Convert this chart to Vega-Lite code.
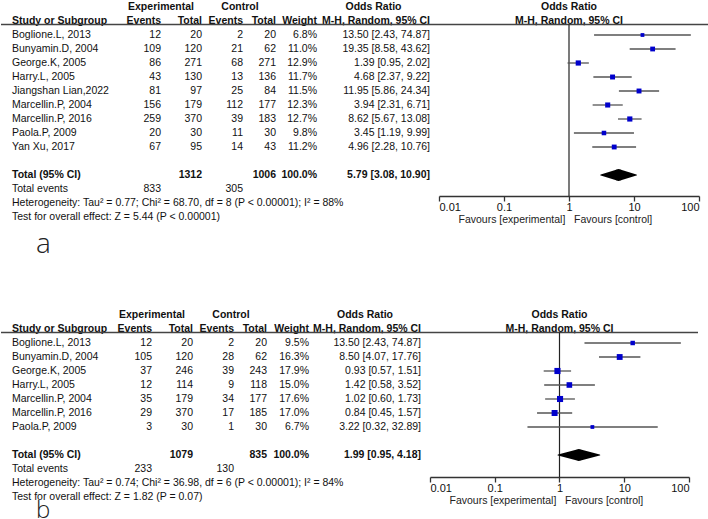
{
"$schema":"https://vega.github.io/schema/vega-lite/v6.json",
"padding":0,
"background":"white",
"spacing":49,
"datasets":{
"A":[
{"kind":"study","row":"Boglione.L, 2013","eE":12,"eT":20,"cE":2,"cT":20,"w":0.068,"orCI":"13.50 [2.43, 74.87]","or":13.50,"lo":2.43,"hi":74.87},
{"kind":"study","row":"Bunyamin.D, 2004","eE":109,"eT":120,"cE":21,"cT":62,"w":0.110,"orCI":"19.35 [8.58, 43.62]","or":19.35,"lo":8.58,"hi":43.62},
{"kind":"study","row":"George.K, 2005","eE":86,"eT":271,"cE":68,"cT":271,"w":0.129,"orCI":"1.39 [0.95, 2.02]","or":1.39,"lo":0.95,"hi":2.02},
{"kind":"study","row":"Harry.L, 2005","eE":43,"eT":130,"cE":13,"cT":136,"w":0.117,"orCI":"4.68 [2.37, 9.22]","or":4.68,"lo":2.37,"hi":9.22},
{"kind":"study","row":"Jiangshan Lian,2022","eE":81,"eT":97,"cE":25,"cT":84,"w":0.115,"orCI":"11.95 [5.86, 24.34]","or":11.95,"lo":5.86,"hi":24.34},
{"kind":"study","row":"Marcellin.P, 2004","eE":156,"eT":179,"cE":112,"cT":177,"w":0.123,"orCI":"3.94 [2.31, 6.71]","or":3.94,"lo":2.31,"hi":6.71},
{"kind":"study","row":"Marcellin.P, 2016","eE":259,"eT":370,"cE":39,"cT":183,"w":0.127,"orCI":"8.62 [5.67, 13.08]","or":8.62,"lo":5.67,"hi":13.08},
{"kind":"study","row":"Paola.P, 2009","eE":20,"eT":30,"cE":11,"cT":30,"w":0.098,"orCI":"3.45 [1.19, 9.99]","or":3.45,"lo":1.19,"hi":9.99},
{"kind":"study","row":"Yan Xu, 2017","eE":67,"eT":95,"cE":14,"cT":43,"w":0.112,"orCI":"4.96 [2.28, 10.76]","or":4.96,"lo":2.28,"hi":10.76},
{"kind":"total","row":"Total (95% CI)","eT":1312,"cT":1006,"w":1.0,"orCI":"5.79 [3.08, 10.90]","or":5.79,"lo":3.08,"hi":10.90},
{"kind":"events","row":"Total events","eE":833,"cE":305},
{"kind":"note","row":"het","text":"Heterogeneity: Tau² = 0.77; Chi² = 68.70, df = 8 (P < 0.00001); I² = 88%"},
{"kind":"note","row":"test","text":"Test for overall effect: Z = 5.44 (P < 0.00001)"},
{"kind":"label","row":"lbl","text":"a"}
],
"B":[
{"kind":"study","row":"Boglione.L, 2013","eE":12,"eT":20,"cE":2,"cT":20,"w":0.095,"orCI":"13.50 [2.43, 74.87]","or":13.50,"lo":2.43,"hi":74.87},
{"kind":"study","row":"Bunyamin.D, 2004","eE":105,"eT":120,"cE":28,"cT":62,"w":0.163,"orCI":"8.50 [4.07, 17.76]","or":8.50,"lo":4.07,"hi":17.76},
{"kind":"study","row":"George.K, 2005","eE":37,"eT":246,"cE":39,"cT":243,"w":0.179,"orCI":"0.93 [0.57, 1.51]","or":0.93,"lo":0.57,"hi":1.51},
{"kind":"study","row":"Harry.L, 2005","eE":12,"eT":114,"cE":9,"cT":118,"w":0.150,"orCI":"1.42 [0.58, 3.52]","or":1.42,"lo":0.58,"hi":3.52},
{"kind":"study","row":"Marcellin.P, 2004","eE":35,"eT":179,"cE":34,"cT":177,"w":0.176,"orCI":"1.02 [0.60, 1.73]","or":1.02,"lo":0.60,"hi":1.73},
{"kind":"study","row":"Marcellin.P, 2016","eE":29,"eT":370,"cE":17,"cT":185,"w":0.170,"orCI":"0.84 [0.45, 1.57]","or":0.84,"lo":0.45,"hi":1.57},
{"kind":"study","row":"Paola.P, 2009","eE":3,"eT":30,"cE":1,"cT":30,"w":0.067,"orCI":"3.22 [0.32, 32.89]","or":3.22,"lo":0.32,"hi":32.89},
{"kind":"total","row":"Total (95% CI)","eT":1079,"cT":835,"w":1.0,"orCI":"1.99 [0.95, 4.18]","or":1.99,"lo":0.95,"hi":4.18},
{"kind":"events","row":"Total events","eE":233,"cE":130},
{"kind":"note","row":"het","text":"Heterogeneity: Tau² = 0.74; Chi² = 36.98, df = 6 (P < 0.00001); I² = 84%"},
{"kind":"note","row":"test","text":"Test for overall effect: Z = 1.82 (P = 0.07)"},
{"kind":"label","row":"lbl","text":"b"}
]
},
"vconcat":[
{"bounds":"flush","spacing":0,"hconcat":[
{"width":11,"height":252,"data":{"name":"A"},
"encoding":{"y":{"field":"row","type":"nominal","axis":null,"scale":{"type":"band","paddingInner":0,"paddingOuter":0,"domain":["h1","h2","Boglione.L, 2013","Bunyamin.D, 2004","George.K, 2005","Harry.L, 2005","Jiangshan Lian,2022","Marcellin.P, 2004","Marcellin.P, 2016","Paola.P, 2009","Yan Xu, 2017","gap","Total (95% CI)","Total events","het","test","sp","lbl"]}}},
"layer":[
{"data":{"values":[{"row":"h2","t":"Study or Subgroup"}]},"mark":{"type":"text","align":"left","fontWeight":"bold"},"encoding":{"x":{"value":"width"},"text":{"field":"t","type":"nominal"}}},
{"data":{"values":[{"row":"h2"}]},"mark":{"type":"rule","color":"#444","strokeWidth":1.5},"encoding":{"y":{"field":"row","type":"nominal","bandPosition":0.75,"axis":null}}},
{"transform":[{"filter":"datum.kind==='study' || datum.kind==='events'"}],"mark":{"type":"text","align":"left"},"encoding":{"x":{"value":"width"},"text":{"field":"row","type":"nominal"}}},
{"transform":[{"filter":"datum.kind==='total'"}],"mark":{"type":"text","align":"left","fontWeight":"bold"},"encoding":{"x":{"value":"width"},"text":{"field":"row","type":"nominal"}}},
{"transform":[{"filter":"datum.kind==='note'"}],"mark":{"type":"text","align":"left"},"encoding":{"x":{"value":"width"},"text":{"field":"text","type":"nominal"}}},
{"transform":[{"filter":"datum.kind==='label'"}],"mark":{"type":"text","align":"left","dx":24,"fontSize":28,"font":"Open Sans","fontWeight":300,"color":"#222"},"encoding":{"x":{"value":"width"},"text":{"field":"text","type":"nominal"}}}
]},
{"width":149,"height":196,"data":{"name":"A"},
"encoding":{"y":{"field":"row","type":"nominal","axis":null,"scale":{"type":"band","paddingInner":0,"paddingOuter":0,"domain":["h1","h2","Boglione.L, 2013","Bunyamin.D, 2004","George.K, 2005","Harry.L, 2005","Jiangshan Lian,2022","Marcellin.P, 2004","Marcellin.P, 2016","Paola.P, 2009","Yan Xu, 2017","gap","Total (95% CI)","Total events"]}}},
"layer":[
{"data":{"values":[{"row":"h1","t":"Experimental"}]},"mark":{"type":"text","align":"center","fontWeight":"bold"},"encoding":{"x":{"value":"width"},"text":{"field":"t","type":"nominal"}}},
{"data":{"values":[{"row":"h2","t":"Events"}]},"mark":{"type":"text","align":"right","fontWeight":"bold"},"encoding":{"x":{"value":"width"},"text":{"field":"t","type":"nominal"}}},
{"data":{"values":[{"row":"h2"}]},"mark":{"type":"rule","color":"#444","strokeWidth":1.5},"encoding":{"y":{"field":"row","type":"nominal","bandPosition":0.75,"axis":null}}},
{"transform":[{"filter":"datum.kind==='study' || datum.kind==='events'"}],"mark":{"type":"text","align":"right"},"encoding":{"x":{"value":"width"},"text":{"field":"eE","type":"nominal"}}}
]},
{"width":41,"height":196,"data":{"name":"A"},
"encoding":{"y":{"field":"row","type":"nominal","axis":null,"scale":{"type":"band","paddingInner":0,"paddingOuter":0,"domain":["h1","h2","Boglione.L, 2013","Bunyamin.D, 2004","George.K, 2005","Harry.L, 2005","Jiangshan Lian,2022","Marcellin.P, 2004","Marcellin.P, 2016","Paola.P, 2009","Yan Xu, 2017","gap","Total (95% CI)","Total events"]}}},
"layer":[
{"data":{"values":[{"row":"h2","t":"Total"}]},"mark":{"type":"text","align":"right","fontWeight":"bold"},"encoding":{"x":{"value":"width"},"text":{"field":"t","type":"nominal"}}},
{"data":{"values":[{"row":"h2"}]},"mark":{"type":"rule","color":"#444","strokeWidth":1.5},"encoding":{"y":{"field":"row","type":"nominal","bandPosition":0.75,"axis":null}}},
{"transform":[{"filter":"datum.kind==='study'"}],"mark":{"type":"text","align":"right"},"encoding":{"x":{"value":"width"},"text":{"field":"eT","type":"nominal"}}},
{"transform":[{"filter":"datum.kind==='total'"}],"mark":{"type":"text","align":"right","fontWeight":"bold"},"encoding":{"x":{"value":"width"},"text":{"field":"eT","type":"nominal"}}}
]},
{"width":41,"height":196,"data":{"name":"A"},
"encoding":{"y":{"field":"row","type":"nominal","axis":null,"scale":{"type":"band","paddingInner":0,"paddingOuter":0,"domain":["h1","h2","Boglione.L, 2013","Bunyamin.D, 2004","George.K, 2005","Harry.L, 2005","Jiangshan Lian,2022","Marcellin.P, 2004","Marcellin.P, 2016","Paola.P, 2009","Yan Xu, 2017","gap","Total (95% CI)","Total events"]}}},
"layer":[
{"data":{"values":[{"row":"h1","t":"Control"}]},"mark":{"type":"text","align":"center","fontWeight":"bold","dx":-3},"encoding":{"x":{"value":"width"},"text":{"field":"t","type":"nominal"}}},
{"data":{"values":[{"row":"h2","t":"Events"}]},"mark":{"type":"text","align":"right","fontWeight":"bold"},"encoding":{"x":{"value":"width"},"text":{"field":"t","type":"nominal"}}},
{"data":{"values":[{"row":"h2"}]},"mark":{"type":"rule","color":"#444","strokeWidth":1.5},"encoding":{"y":{"field":"row","type":"nominal","bandPosition":0.75,"axis":null}}},
{"transform":[{"filter":"datum.kind==='study' || datum.kind==='events'"}],"mark":{"type":"text","align":"right"},"encoding":{"x":{"value":"width"},"text":{"field":"cE","type":"nominal"}}}
]},
{"width":33,"height":196,"data":{"name":"A"},
"encoding":{"y":{"field":"row","type":"nominal","axis":null,"scale":{"type":"band","paddingInner":0,"paddingOuter":0,"domain":["h1","h2","Boglione.L, 2013","Bunyamin.D, 2004","George.K, 2005","Harry.L, 2005","Jiangshan Lian,2022","Marcellin.P, 2004","Marcellin.P, 2016","Paola.P, 2009","Yan Xu, 2017","gap","Total (95% CI)","Total events"]}}},
"layer":[
{"data":{"values":[{"row":"h2","t":"Total"}]},"mark":{"type":"text","align":"right","fontWeight":"bold"},"encoding":{"x":{"value":"width"},"text":{"field":"t","type":"nominal"}}},
{"data":{"values":[{"row":"h2"}]},"mark":{"type":"rule","color":"#444","strokeWidth":1.5},"encoding":{"y":{"field":"row","type":"nominal","bandPosition":0.75,"axis":null}}},
{"transform":[{"filter":"datum.kind==='study'"}],"mark":{"type":"text","align":"right"},"encoding":{"x":{"value":"width"},"text":{"field":"cT","type":"nominal"}}},
{"transform":[{"filter":"datum.kind==='total'"}],"mark":{"type":"text","align":"right","fontWeight":"bold"},"encoding":{"x":{"value":"width"},"text":{"field":"cT","type":"nominal"}}}
]},
{"width":41,"height":196,"data":{"name":"A"},
"encoding":{"y":{"field":"row","type":"nominal","axis":null,"scale":{"type":"band","paddingInner":0,"paddingOuter":0,"domain":["h1","h2","Boglione.L, 2013","Bunyamin.D, 2004","George.K, 2005","Harry.L, 2005","Jiangshan Lian,2022","Marcellin.P, 2004","Marcellin.P, 2016","Paola.P, 2009","Yan Xu, 2017","gap","Total (95% CI)","Total events"]}}},
"layer":[
{"data":{"values":[{"row":"h2","t":"Weight"}]},"mark":{"type":"text","align":"right","fontWeight":"bold"},"encoding":{"x":{"value":"width"},"text":{"field":"t","type":"nominal"}}},
{"data":{"values":[{"row":"h2"}]},"mark":{"type":"rule","color":"#444","strokeWidth":1.5},"encoding":{"y":{"field":"row","type":"nominal","bandPosition":0.75,"axis":null}}},
{"transform":[{"filter":"datum.kind==='study'"}],"mark":{"type":"text","align":"right"},"encoding":{"x":{"value":"width"},"text":{"field":"w","type":"quantitative","format":".1%"}}},
{"transform":[{"filter":"datum.kind==='total'"}],"mark":{"type":"text","align":"right","fontWeight":"bold"},"encoding":{"x":{"value":"width"},"text":{"field":"w","type":"quantitative","format":".1%"}}}
]},
{"width":113,"height":196,"data":{"name":"A"},
"encoding":{"y":{"field":"row","type":"nominal","axis":null,"scale":{"type":"band","paddingInner":0,"paddingOuter":0,"domain":["h1","h2","Boglione.L, 2013","Bunyamin.D, 2004","George.K, 2005","Harry.L, 2005","Jiangshan Lian,2022","Marcellin.P, 2004","Marcellin.P, 2016","Paola.P, 2009","Yan Xu, 2017","gap","Total (95% CI)","Total events"]}}},
"layer":[
{"data":{"values":[{"row":"h1","t":"Odds Ratio"}]},"mark":{"type":"text","align":"center","fontWeight":"bold"},"encoding":{"text":{"field":"t","type":"nominal"}}},
{"data":{"values":[{"row":"h2","t":"M-H, Random, 95% CI"}]},"mark":{"type":"text","align":"right","fontWeight":"bold"},"encoding":{"x":{"value":"width"},"text":{"field":"t","type":"nominal"}}},
{"data":{"values":[{"row":"h2"}]},"mark":{"type":"rule","color":"#444","strokeWidth":1.5},"encoding":{"y":{"field":"row","type":"nominal","bandPosition":0.75,"axis":null}}},
{"transform":[{"filter":"datum.kind==='study'"}],"mark":{"type":"text","align":"right"},"encoding":{"x":{"value":"width"},"text":{"field":"orCI","type":"nominal"}}},
{"transform":[{"filter":"datum.kind==='total'"}],"mark":{"type":"text","align":"right","fontWeight":"bold"},"encoding":{"x":{"value":"width"},"text":{"field":"orCI","type":"nominal"}}}
]},
{"width":9,"height":28,"data":{"values":[{"row":"h2"}]},"mark":{"type":"rule","color":"#444","strokeWidth":1.5},
"encoding":{"y":{"field":"row","type":"nominal","bandPosition":0.75,"axis":null,"scale":{"type":"band","paddingInner":0,"paddingOuter":0,"domain":["h1","h2"]}}}},
{"width":260,"height":196,"data":{"name":"A"},
"encoding":{"y":{"field":"row","type":"nominal","axis":null,"scale":{"type":"band","paddingInner":0,"paddingOuter":0,"domain":["h1","h2","Boglione.L, 2013","Bunyamin.D, 2004","George.K, 2005","Harry.L, 2005","Jiangshan Lian,2022","Marcellin.P, 2004","Marcellin.P, 2016","Paola.P, 2009","Yan Xu, 2017","gap","Total (95% CI)","Total events"]}}},
"layer":[
{"data":{"values":[{"row":"h1","t":"Odds Ratio"},{"row":"h2","t":"M-H, Random, 95% CI"}]},"mark":{"type":"text","align":"center","fontWeight":"bold"},"encoding":{"x":{"datum":1,"type":"quantitative"},"text":{"field":"t","type":"nominal"}}},
{"data":{"values":[{"row":"h2"}]},"mark":{"type":"rule","color":"#444","strokeWidth":1.5},"encoding":{"y":{"field":"row","type":"nominal","bandPosition":0.75,"axis":null}}},
{"data":{"values":[{"row":"h2","ref":1}]},"mark":{"type":"rule","color":"#222","strokeWidth":1.2},"encoding":{"x":{"field":"ref","type":"quantitative"},"y":{"field":"row","type":"nominal","bandPosition":0.75,"axis":null},"y2":{"value":"height"}}},
{"transform":[{"filter":"datum.kind==='study'"}],"mark":{"type":"rule","color":"#555","strokeWidth":1.3},
"encoding":{"x":{"field":"lo","type":"quantitative","scale":{"type":"log","domain":[0.01,100]},
"axis":{"values":[0.01,0.1,1,10,100],"format":"~g","grid":false,"domainColor":"#333","domainWidth":1.3,"tickColor":"#333","tickWidth":1.3,"tickSize":5,"labelFontSize":11,"labelColor":"#111","labelPadding":0,"labelFlush":true,"title":"Favours [experimental]\u00a0\u00a0\u00a0Favours [control]","titleFontWeight":"normal","titleFontSize":10.5,"titleColor":"#222","titleAlign":"left","titleAnchor":"start","titleX":19,"titlePadding":2}},
"x2":{"field":"hi"}}},
{"transform":[{"filter":"datum.kind==='study'"}],"mark":{"type":"square","color":"#0000cc","opacity":1},"encoding":{"x":{"field":"or","type":"quantitative"},"size":{"field":"w","type":"quantitative","scale":{"domain":[0,0.2],"range":[0,42]},"legend":null}}},
{"transform":[{"filter":"datum.kind==='total'"},{"fold":["lo","or","hi"],"as":["key","val"]}],"mark":{"type":"trail","color":"#000"},"encoding":{"x":{"field":"val","type":"quantitative"},"size":{"condition":{"test":"datum.key==='or'","value":12},"value":0}}}
]},
{"width":10,"height":28,"data":{"values":[{"row":"h2"}]},"mark":{"type":"rule","color":"#444","strokeWidth":1.5},
"encoding":{"y":{"field":"row","type":"nominal","bandPosition":0.75,"axis":null,"scale":{"type":"band","paddingInner":0,"paddingOuter":0,"domain":["h1","h2"]}}}}
]},
{"bounds":"flush","spacing":0,"hconcat":[
{"width":11,"height":210,"data":{"name":"B"},
"encoding":{"y":{"field":"row","type":"nominal","axis":null,"scale":{"type":"band","paddingInner":0,"paddingOuter":0,"domain":["h1","h2","Boglione.L, 2013","Bunyamin.D, 2004","George.K, 2005","Harry.L, 2005","Marcellin.P, 2004","Marcellin.P, 2016","Paola.P, 2009","gap","Total (95% CI)","Total events","het","test","lbl"]}}},
"layer":[
{"data":{"values":[{"row":"h2","t":"Study or Subgroup"}]},"mark":{"type":"text","align":"left","fontWeight":"bold"},"encoding":{"x":{"value":"width"},"text":{"field":"t","type":"nominal"}}},
{"data":{"values":[{"row":"h2"}]},"mark":{"type":"rule","color":"#444","strokeWidth":1.5},"encoding":{"y":{"field":"row","type":"nominal","bandPosition":0.75,"axis":null}}},
{"transform":[{"filter":"datum.kind==='study' || datum.kind==='events'"}],"mark":{"type":"text","align":"left"},"encoding":{"x":{"value":"width"},"text":{"field":"row","type":"nominal"}}},
{"transform":[{"filter":"datum.kind==='total'"}],"mark":{"type":"text","align":"left","fontWeight":"bold"},"encoding":{"x":{"value":"width"},"text":{"field":"row","type":"nominal"}}},
{"transform":[{"filter":"datum.kind==='note'"}],"mark":{"type":"text","align":"left"},"encoding":{"x":{"value":"width"},"text":{"field":"text","type":"nominal"}}},
{"transform":[{"filter":"datum.kind==='label'"}],"mark":{"type":"text","align":"left","dx":24,"fontSize":24,"font":"Open Sans","fontWeight":300,"color":"#222"},"encoding":{"x":{"value":"width"},"text":{"field":"text","type":"nominal"}}}
]},
{"width":140,"height":168,"data":{"name":"B"},
"encoding":{"y":{"field":"row","type":"nominal","axis":null,"scale":{"type":"band","paddingInner":0,"paddingOuter":0,"domain":["h1","h2","Boglione.L, 2013","Bunyamin.D, 2004","George.K, 2005","Harry.L, 2005","Marcellin.P, 2004","Marcellin.P, 2016","Paola.P, 2009","gap","Total (95% CI)","Total events"]}}},
"layer":[
{"data":{"values":[{"row":"h1","t":"Experimental"}]},"mark":{"type":"text","align":"center","fontWeight":"bold"},"encoding":{"x":{"value":"width"},"text":{"field":"t","type":"nominal"}}},
{"data":{"values":[{"row":"h2","t":"Events"}]},"mark":{"type":"text","align":"right","fontWeight":"bold"},"encoding":{"x":{"value":"width"},"text":{"field":"t","type":"nominal"}}},
{"data":{"values":[{"row":"h2"}]},"mark":{"type":"rule","color":"#444","strokeWidth":1.5},"encoding":{"y":{"field":"row","type":"nominal","bandPosition":0.75,"axis":null}}},
{"transform":[{"filter":"datum.kind==='study' || datum.kind==='events'"}],"mark":{"type":"text","align":"right"},"encoding":{"x":{"value":"width"},"text":{"field":"eE","type":"nominal"}}}
]},
{"width":41,"height":168,"data":{"name":"B"},
"encoding":{"y":{"field":"row","type":"nominal","axis":null,"scale":{"type":"band","paddingInner":0,"paddingOuter":0,"domain":["h1","h2","Boglione.L, 2013","Bunyamin.D, 2004","George.K, 2005","Harry.L, 2005","Marcellin.P, 2004","Marcellin.P, 2016","Paola.P, 2009","gap","Total (95% CI)","Total events"]}}},
"layer":[
{"data":{"values":[{"row":"h2","t":"Total"}]},"mark":{"type":"text","align":"right","fontWeight":"bold"},"encoding":{"x":{"value":"width"},"text":{"field":"t","type":"nominal"}}},
{"data":{"values":[{"row":"h2"}]},"mark":{"type":"rule","color":"#444","strokeWidth":1.5},"encoding":{"y":{"field":"row","type":"nominal","bandPosition":0.75,"axis":null}}},
{"transform":[{"filter":"datum.kind==='study'"}],"mark":{"type":"text","align":"right"},"encoding":{"x":{"value":"width"},"text":{"field":"eT","type":"nominal"}}},
{"transform":[{"filter":"datum.kind==='total'"}],"mark":{"type":"text","align":"right","fontWeight":"bold"},"encoding":{"x":{"value":"width"},"text":{"field":"eT","type":"nominal"}}}
]},
{"width":41,"height":168,"data":{"name":"B"},
"encoding":{"y":{"field":"row","type":"nominal","axis":null,"scale":{"type":"band","paddingInner":0,"paddingOuter":0,"domain":["h1","h2","Boglione.L, 2013","Bunyamin.D, 2004","George.K, 2005","Harry.L, 2005","Marcellin.P, 2004","Marcellin.P, 2016","Paola.P, 2009","gap","Total (95% CI)","Total events"]}}},
"layer":[
{"data":{"values":[{"row":"h1","t":"Control"}]},"mark":{"type":"text","align":"center","fontWeight":"bold","dx":-3},"encoding":{"x":{"value":"width"},"text":{"field":"t","type":"nominal"}}},
{"data":{"values":[{"row":"h2","t":"Events"}]},"mark":{"type":"text","align":"right","fontWeight":"bold"},"encoding":{"x":{"value":"width"},"text":{"field":"t","type":"nominal"}}},
{"data":{"values":[{"row":"h2"}]},"mark":{"type":"rule","color":"#444","strokeWidth":1.5},"encoding":{"y":{"field":"row","type":"nominal","bandPosition":0.75,"axis":null}}},
{"transform":[{"filter":"datum.kind==='study' || datum.kind==='events'"}],"mark":{"type":"text","align":"right"},"encoding":{"x":{"value":"width"},"text":{"field":"cE","type":"nominal"}}}
]},
{"width":33,"height":168,"data":{"name":"B"},
"encoding":{"y":{"field":"row","type":"nominal","axis":null,"scale":{"type":"band","paddingInner":0,"paddingOuter":0,"domain":["h1","h2","Boglione.L, 2013","Bunyamin.D, 2004","George.K, 2005","Harry.L, 2005","Marcellin.P, 2004","Marcellin.P, 2016","Paola.P, 2009","gap","Total (95% CI)","Total events"]}}},
"layer":[
{"data":{"values":[{"row":"h2","t":"Total"}]},"mark":{"type":"text","align":"right","fontWeight":"bold"},"encoding":{"x":{"value":"width"},"text":{"field":"t","type":"nominal"}}},
{"data":{"values":[{"row":"h2"}]},"mark":{"type":"rule","color":"#444","strokeWidth":1.5},"encoding":{"y":{"field":"row","type":"nominal","bandPosition":0.75,"axis":null}}},
{"transform":[{"filter":"datum.kind==='study'"}],"mark":{"type":"text","align":"right"},"encoding":{"x":{"value":"width"},"text":{"field":"cT","type":"nominal"}}},
{"transform":[{"filter":"datum.kind==='total'"}],"mark":{"type":"text","align":"right","fontWeight":"bold"},"encoding":{"x":{"value":"width"},"text":{"field":"cT","type":"nominal"}}}
]},
{"width":42,"height":168,"data":{"name":"B"},
"encoding":{"y":{"field":"row","type":"nominal","axis":null,"scale":{"type":"band","paddingInner":0,"paddingOuter":0,"domain":["h1","h2","Boglione.L, 2013","Bunyamin.D, 2004","George.K, 2005","Harry.L, 2005","Marcellin.P, 2004","Marcellin.P, 2016","Paola.P, 2009","gap","Total (95% CI)","Total events"]}}},
"layer":[
{"data":{"values":[{"row":"h2","t":"Weight"}]},"mark":{"type":"text","align":"right","fontWeight":"bold"},"encoding":{"x":{"value":"width"},"text":{"field":"t","type":"nominal"}}},
{"data":{"values":[{"row":"h2"}]},"mark":{"type":"rule","color":"#444","strokeWidth":1.5},"encoding":{"y":{"field":"row","type":"nominal","bandPosition":0.75,"axis":null}}},
{"transform":[{"filter":"datum.kind==='study'"}],"mark":{"type":"text","align":"right"},"encoding":{"x":{"value":"width"},"text":{"field":"w","type":"quantitative","format":".1%"}}},
{"transform":[{"filter":"datum.kind==='total'"}],"mark":{"type":"text","align":"right","fontWeight":"bold"},"encoding":{"x":{"value":"width"},"text":{"field":"w","type":"quantitative","format":".1%"}}}
]},
{"width":112,"height":168,"data":{"name":"B"},
"encoding":{"y":{"field":"row","type":"nominal","axis":null,"scale":{"type":"band","paddingInner":0,"paddingOuter":0,"domain":["h1","h2","Boglione.L, 2013","Bunyamin.D, 2004","George.K, 2005","Harry.L, 2005","Marcellin.P, 2004","Marcellin.P, 2016","Paola.P, 2009","gap","Total (95% CI)","Total events"]}}},
"layer":[
{"data":{"values":[{"row":"h1","t":"Odds Ratio"}]},"mark":{"type":"text","align":"center","fontWeight":"bold"},"encoding":{"text":{"field":"t","type":"nominal"}}},
{"data":{"values":[{"row":"h2","t":"M-H, Random, 95% CI"}]},"mark":{"type":"text","align":"right","fontWeight":"bold"},"encoding":{"x":{"value":"width"},"text":{"field":"t","type":"nominal"}}},
{"data":{"values":[{"row":"h2"}]},"mark":{"type":"rule","color":"#444","strokeWidth":1.5},"encoding":{"y":{"field":"row","type":"nominal","bandPosition":0.75,"axis":null}}},
{"transform":[{"filter":"datum.kind==='study'"}],"mark":{"type":"text","align":"right"},"encoding":{"x":{"value":"width"},"text":{"field":"orCI","type":"nominal"}}},
{"transform":[{"filter":"datum.kind==='total'"}],"mark":{"type":"text","align":"right","fontWeight":"bold"},"encoding":{"x":{"value":"width"},"text":{"field":"orCI","type":"nominal"}}}
]},
{"width":9,"height":28,"data":{"values":[{"row":"h2"}]},"mark":{"type":"rule","color":"#444","strokeWidth":1.5},
"encoding":{"y":{"field":"row","type":"nominal","bandPosition":0.75,"axis":null,"scale":{"type":"band","paddingInner":0,"paddingOuter":0,"domain":["h1","h2"]}}}},
{"width":259,"height":169,"data":{"name":"B"},
"encoding":{"y":{"field":"row","type":"nominal","axis":null,"scale":{"type":"band","paddingInner":0,"paddingOuter":0.036,"align":0,"domain":["h1","h2","Boglione.L, 2013","Bunyamin.D, 2004","George.K, 2005","Harry.L, 2005","Marcellin.P, 2004","Marcellin.P, 2016","Paola.P, 2009","gap","Total (95% CI)","Total events"]}}},
"layer":[
{"data":{"values":[{"row":"h1","t":"Odds Ratio"},{"row":"h2","t":"M-H, Random, 95% CI"}]},"mark":{"type":"text","align":"center","fontWeight":"bold"},"encoding":{"x":{"datum":1,"type":"quantitative"},"text":{"field":"t","type":"nominal"}}},
{"data":{"values":[{"row":"h2"}]},"mark":{"type":"rule","color":"#444","strokeWidth":1.5},"encoding":{"y":{"field":"row","type":"nominal","bandPosition":0.75,"axis":null}}},
{"data":{"values":[{"row":"h2","ref":1}]},"mark":{"type":"rule","color":"#222","strokeWidth":1.2},"encoding":{"x":{"field":"ref","type":"quantitative"},"y":{"field":"row","type":"nominal","bandPosition":0.75,"axis":null},"y2":{"value":"height"}}},
{"transform":[{"filter":"datum.kind==='study'"}],"mark":{"type":"rule","color":"#555","strokeWidth":1.3},
"encoding":{"x":{"field":"lo","type":"quantitative","scale":{"type":"log","domain":[0.01,100]},
"axis":{"values":[0.01,0.1,1,10,100],"format":"~g","grid":false,"domainColor":"#333","domainWidth":1.3,"tickColor":"#333","tickWidth":1.3,"tickSize":5,"labelFontSize":11,"labelColor":"#111","labelPadding":0,"labelFlush":true,"title":"Favours [experimental]\u00a0\u00a0\u00a0Favours [control]","titleFontWeight":"normal","titleFontSize":10.5,"titleColor":"#222","titleAlign":"left","titleAnchor":"start","titleX":19,"titlePadding":2}},
"x2":{"field":"hi"}}},
{"transform":[{"filter":"datum.kind==='study'"}],"mark":{"type":"square","color":"#0000cc","opacity":1},"encoding":{"x":{"field":"or","type":"quantitative"},"size":{"field":"w","type":"quantitative","scale":{"domain":[0,0.2],"range":[0,42]},"legend":null}}},
{"transform":[{"filter":"datum.kind==='total'"},{"fold":["lo","or","hi"],"as":["key","val"]}],"mark":{"type":"trail","color":"#000"},"encoding":{"x":{"field":"val","type":"quantitative"},"size":{"condition":{"test":"datum.key==='or'","value":12},"value":0}}}
]},
{"width":9,"height":28,"data":{"values":[{"row":"h2"}]},"mark":{"type":"rule","color":"#444","strokeWidth":1.5},
"encoding":{"y":{"field":"row","type":"nominal","bandPosition":0.75,"axis":null,"scale":{"type":"band","paddingInner":0,"paddingOuter":0,"domain":["h1","h2"]}}}}
]}
],
"config":{
"view":{"stroke":null},
"text":{"font":"Liberation Sans","fontSize":10.5,"color":"#111"},
"axis":{"labelFont":"Liberation Sans","titleFont":"Liberation Sans"}
}
}
